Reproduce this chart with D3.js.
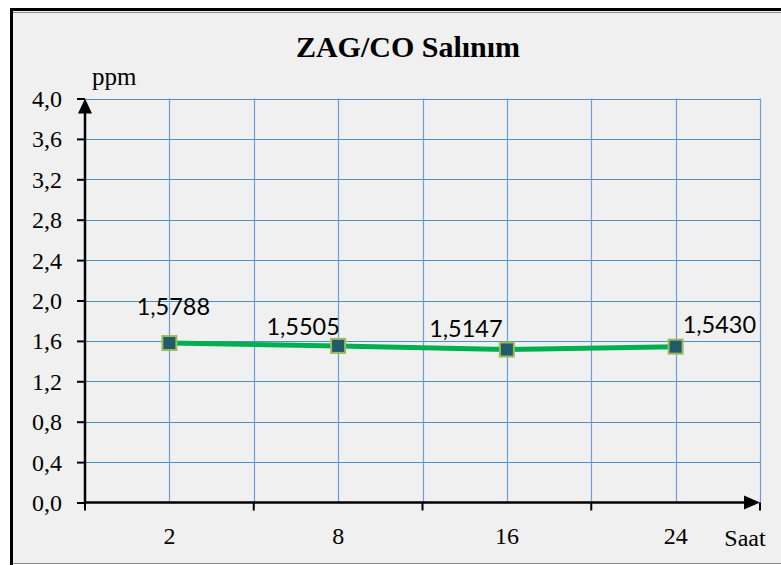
<!DOCTYPE html>
<html>
<head>
<meta charset="utf-8">
<script src="https://cdn.jsdelivr.net/npm/d3@7/dist/d3.min.js"></script>
<style>
  html, body { margin: 0; padding: 0; background: #ffffff; }
  svg { display: block; }
</style>
</head>
<body>
<svg id="chart" width="781" height="565"></svg>
<script>
// Chart data
const categories = ["2", "8", "16", "24"];
const values = [1.5788, 1.5505, 1.5147, 1.5430];
const valueLabels = ["1,5788", "1,5505", "1,5147", "1,5430"];
const yTicks = [0, 0.4, 0.8, 1.2, 1.6, 2.0, 2.4, 2.8, 3.2, 3.6, 4.0];
const yTickLabels = ["0,0", "0,4", "0,8", "1,2", "1,6", "2,0", "2,4", "2,8", "3,2", "3,6", "4,0"];
const title = "ZAG/CO Salınım";
const yTitle = "ppm";
const xTitle = "Saat";

const svg = d3.select("#chart");
const W = 781, H = 565;
const serif = "Liberation Serif, Times New Roman, serif";

// chart background with frame
svg.append("rect").attr("x", 12).attr("y", 10).attr("width", W - 12).attr("height", 553)
  .attr("fill", "#f0f0f0");
svg.append("line").attr("x1", 12).attr("x2", W).attr("y1", 12.5).attr("y2", 12.5)
  .attr("stroke", "#8c8c8c").attr("stroke-width", 1);
svg.append("line").attr("x1", 11.5).attr("x2", 11.5).attr("y1", 8).attr("y2", 565)
  .attr("stroke", "#000").attr("stroke-width", 3);
svg.append("line").attr("x1", 10).attr("x2", W).attr("y1", 9.5).attr("y2", 9.5)
  .attr("stroke", "#000").attr("stroke-width", 3);
svg.append("line").attr("x1", 13).attr("x2", W).attr("y1", 563.5).attr("y2", 563.5)
  .attr("stroke", "#8c8c8c").attr("stroke-width", 1);

const plotLeft = 85, plotRight = 760, plotTop = 98.5, plotBottom = 502.5;

const x = d3.scaleBand().domain(categories).range([plotLeft, plotRight]).padding(0);
const y = d3.scaleLinear().domain([0, 4]).range([plotBottom, plotTop]);
const cx = d => x(d) + x.bandwidth() / 2;

// title
svg.append("text").attr("x", 408).attr("y", 57).attr("text-anchor", "middle")
  .attr("font-family", serif)
  .attr("font-weight", "bold").attr("font-size", 30).attr("fill", "#000").text(title);

// horizontal gridlines
svg.append("g").selectAll("line").data(yTicks.slice(1)).join("line")
  .attr("x1", plotLeft).attr("x2", plotRight)
  .attr("y1", d => Math.round(y(d)) + 0.5).attr("y2", d => Math.round(y(d)) + 0.5)
  .attr("stroke", "#4f8fbd").attr("stroke-width", 1.2);

// vertical gridlines: band edges and centres
const vLines = [];
categories.forEach(c => { vLines.push(cx(c)); vLines.push(x(c) + x.bandwidth()); });
svg.append("g").selectAll("line").data(vLines).join("line")
  .attr("x1", d => Math.round(d) + 0.5).attr("x2", d => Math.round(d) + 0.5)
  .attr("y1", plotTop).attr("y2", plotBottom)
  .attr("stroke", "#6a9edc").attr("stroke-width", 1.2);

// y axis with ticks and labels
const yAxis = d3.axisLeft(y).tickValues(yTicks).tickSize(8).tickPadding(15)
  .tickFormat((d, i) => yTickLabels[i]);
const gy = svg.append("g").attr("transform", `translate(${plotLeft},0)`).call(yAxis);
gy.select(".domain").remove();
gy.selectAll(".tick line").attr("stroke", "#000").attr("stroke-width", 2);
gy.selectAll(".tick text").attr("font-family", serif)
  .attr("font-size", 24).attr("fill", "#000").attr("dy", "0.33em");

// x axis with ticks at band edges
const edges = categories.map(c => x(c)).concat([plotRight]);
svg.append("g").selectAll("line").data(edges).join("line")
  .attr("x1", d => d).attr("x2", d => d).attr("y1", plotBottom).attr("y2", plotBottom + 8)
  .attr("stroke", "#000").attr("stroke-width", 2);
svg.append("g").selectAll("text").data(categories).join("text")
  .attr("x", d => cx(d)).attr("y", 544).attr("text-anchor", "middle")
  .attr("font-family", serif)
  .attr("font-size", 24).attr("fill", "#000").text(d => d);

// axis lines with arrowheads
svg.append("line").attr("x1", plotLeft).attr("x2", plotLeft).attr("y1", plotBottom + 1).attr("y2", plotTop + 10)
  .attr("stroke", "#000").attr("stroke-width", 2.5);
svg.append("path").attr("d", `M${plotLeft},${plotTop} L${plotLeft - 7},${plotTop + 15} L${plotLeft + 7},${plotTop + 15} Z`)
  .attr("fill", "#000");
svg.append("line").attr("x1", plotLeft - 1).attr("x2", plotRight - 10).attr("y1", plotBottom).attr("y2", plotBottom)
  .attr("stroke", "#000").attr("stroke-width", 2.5);
svg.append("path").attr("d", `M${plotRight},${plotBottom} L${plotRight - 16},${plotBottom - 7} L${plotRight - 16},${plotBottom + 7} Z`)
  .attr("fill", "#000");

// axis titles
svg.append("text").attr("x", 92).attr("y", 85)
  .attr("font-family", serif)
  .attr("font-size", 25).attr("fill", "#000").text(yTitle);
svg.append("text").attr("x", 745).attr("y", 546).attr("text-anchor", "middle")
  .attr("font-family", serif)
  .attr("font-size", 24).attr("fill", "#000").text(xTitle);

// series line
const pts = categories.map((c, i) => [cx(c), y(values[i])]);
svg.append("path").attr("d", d3.line()(pts))
  .attr("fill", "none").attr("stroke", "#00b050").attr("stroke-width", 5);

// markers
svg.append("g").selectAll("rect").data(pts).join("rect")
  .attr("x", d => d[0] - 7).attr("y", d => d[1] - 7).attr("width", 14).attr("height", 14)
  .attr("fill", "#215a6b").attr("stroke", "#9bbb59").attr("stroke-width", 2);

// value labels
const labelOffsets = [[4, -28], [-35, -11], [-41, -13], [7, -14]];
const anchors = ["middle", "middle", "middle", "start"];
svg.append("g").selectAll("text").data(pts).join("text")
  .attr("x", (d, i) => d[0] + labelOffsets[i][0])
  .attr("y", (d, i) => d[1] + labelOffsets[i][1])
  .attr("text-anchor", (d, i) => anchors[i])
  .attr("font-family", "Lato, Carlito, Calibri, sans-serif")
  .attr("font-size", 23.5).attr("fill", "#000")
  .text((d, i) => valueLabels[i]);
</script>
</body>
</html>
